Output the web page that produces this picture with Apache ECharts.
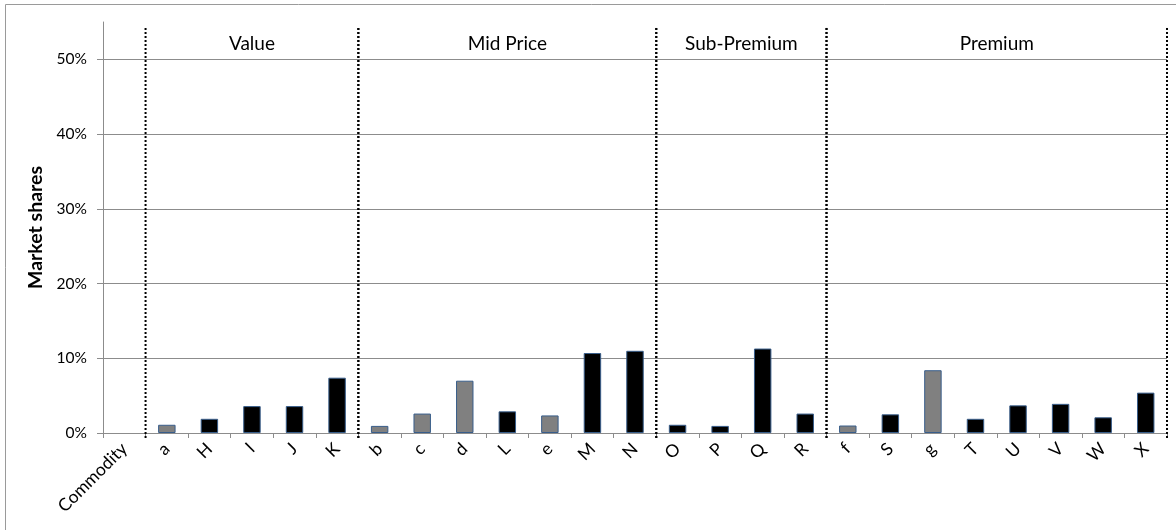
<!DOCTYPE html>
<html>
<head>
<meta charset="utf-8">
<script src="https://cdn.jsdelivr.net/npm/echarts@6/dist/echarts.min.js"></script>
<style>
  html, body { margin: 0; padding: 0; background: #fff; }
  #chart { width: 1176px; height: 530px; }
</style>
</head>
<body>
<div id="chart"></div>
<script>
// Brands along the x axis; the first slot is the commodity placeholder
const categories = ['Commodity', 'a', 'H', 'I', 'J', 'K', 'b', 'c', 'd', 'L', 'e', 'M', 'N',
  'O', 'P', 'Q', 'R', 'f', 'S', 'g', 'T', 'U', 'V', 'W', 'X'];

// Market share in percent for each brand
const shares = [null, 1.1, 1.9, 3.6, 3.6, 7.4, 0.95, 2.6, 7.0, 2.9, 2.35, 10.7, 11.0,
  1.1, 0.95, 11.3, 2.6, 1.0, 2.5, 8.4, 1.9, 3.7, 3.9, 2.1, 5.4];

// Brands drawn in grey rather than black
const greyBrands = ['a', 'b', 'c', 'd', 'e', 'f', 'g'];

// Price segments: name, first brand, last brand
const segmentNames = ['Value', 'Mid Price', 'Sub-Premium', 'Premium'];
const segmentFirst = ['a', 'b', 'O', 'f'];
const segmentLast = ['K', 'N', 'R', 'X'];

// Y axis ticks in percent
const yTicks = [0, 10, 20, 30, 40, 50];

const FONT = 'Lato, "Liberation Sans", sans-serif';

const barData = categories.map((c, i) => ({
  value: shares[i],
  itemStyle: { color: greyBrands.includes(c) ? '#808080' : '#000000' }
}));

const segmentData = segmentNames.map((n, i) => [
  categories.indexOf(segmentFirst[i]),
  categories.indexOf(segmentLast[i]),
  i
]);

// Dotted separators at the segment edges plus the segment title above
function renderSegment(params, api) {
  const first = api.value(0);
  const last = api.value(1);
  const idx = api.value(2);
  const band = api.size([1, 0])[0];
  const left = api.coord([first, 0])[0] - band / 2;
  const right = api.coord([last, 0])[0] + band / 2;
  const yTop = api.coord([first, 54.2])[1];
  const yBottom = api.coord([first, 0])[1] + 5;
  const yText = api.coord([first, 52.1])[1];
  const dotted = { stroke: '#000', lineWidth: 2, lineDash: [2, 2] };
  return {
    type: 'group',
    children: [
      { type: 'line', shape: { x1: left, y1: yTop, x2: left, y2: yBottom }, style: dotted },
      { type: 'line', shape: { x1: right, y1: yTop, x2: right, y2: yBottom }, style: dotted },
      {
        type: 'text',
        style: {
          text: segmentNames[idx],
          x: (left + right) / 2,
          y: yText,
          align: 'center',
          verticalAlign: 'middle',
          fontSize: 19,
          fontFamily: FONT,
          fill: '#000'
        }
      }
    ]
  };
}

const chart = echarts.init(document.getElementById('chart'), null, { renderer: 'canvas' });
chart.setOption({
  animation: false,
  backgroundColor: '#fff',
  graphic: [{
    type: 'rect',
    shape: { x: 5.5, y: 4.5, width: 1200, height: 600 },
    style: { fill: 'none', stroke: '#9a9a9a', lineWidth: 1 },
    silent: true
  }],
  grid: { left: 103, right: 9, top: 22, bottom: 97 },
  xAxis: {
    type: 'category',
    data: categories,
    boundaryGap: true,
    axisLine: { lineStyle: { color: '#8c8c8c', width: 1 } },
    axisTick: { show: true, length: 5, lineStyle: { color: '#8c8c8c' } },
    axisLabel: {
      rotate: 45,
      interval: 0,
      margin: 13,
      fontSize: 17.5,
      fontFamily: FONT,
      color: '#000'
    }
  },
  yAxis: {
    type: 'value',
    min: 0,
    max: 55,
    interval: 10,
    name: 'Market shares',
    nameLocation: 'middle',
    nameGap: 56,
    nameTextStyle: { fontSize: 19.5, fontWeight: 'bold', fontFamily: FONT, color: '#000' },
    axisLine: { show: true, lineStyle: { color: '#8c8c8c' } },
    axisTick: { show: true, length: 6, customValues: yTicks, lineStyle: { color: '#8c8c8c' } },
    axisLabel: {
      customValues: yTicks,
      formatter: v => v + '%',
      fontSize: 15.5,
      fontFamily: FONT,
      color: '#000',
      margin: 16
    },
    splitLine: { show: true, lineStyle: { color: '#8c8c8c', width: 1 } }
  },
  series: [
    {
      type: 'bar',
      data: barData,
      barWidth: '41%',
      itemStyle: { borderColor: '#385d8a', borderWidth: 1 },
      silent: true
    },
    {
      type: 'custom',
      renderItem: renderSegment,
      data: segmentData,
      encode: { x: 0, y: -1 },
      clip: false,
      silent: true,
      z: 5
    }
  ]
});
</script>
</body>
</html>
